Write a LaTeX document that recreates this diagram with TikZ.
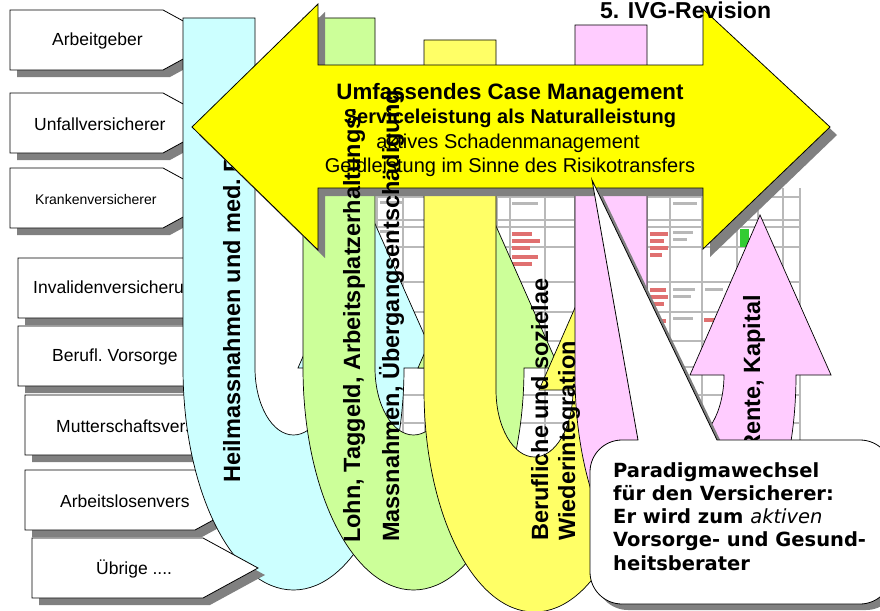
\documentclass[tikz,border=0pt]{standalone}
\usepackage{fontspec}
\setmainfont{Liberation Sans}
\newfontfamily\calloutfont{DejaVu Sans}
\usetikzlibrary{shadows}

\definecolor{ucyan}{HTML}{CCFFFF}
\definecolor{ugreen}{HTML}{CCFF99}
\definecolor{uyellow}{HTML}{FFFF66}
\definecolor{upink}{HTML}{FFCCFF}
\definecolor{bannery}{HTML}{FFFF00}
\definecolor{shade}{HTML}{808080}
\definecolor{tablered}{HTML}{E07070}
\definecolor{tablegrey}{HTML}{B8B8B8}
\definecolor{tablegreen}{HTML}{33CC33}

\tikzset{
    entity/.style={draw=black, fill=white, line width=0.8pt,
        drop shadow={shadow xshift=7pt, shadow yshift=-7pt, fill=shade, opacity=1}}, % the insurer boxes
    entitytext/.style={anchor=west, inner sep=0pt, font=\fontsize{17.5}{20}\selectfont},
    uturn/.style={draw=black, line width=0.7pt},
    flowtext/.style={rotate=90, anchor=base west, inner sep=0pt, font=\bfseries\fontsize{23.5}{26}\selectfont},
    banner/.style={draw=black, fill=bannery, line width=0.8pt,
        drop shadow={shadow xshift=7pt, shadow yshift=-8pt, fill=shade, opacity=1}},
    bannertext/.style={anchor=base, inner sep=0pt},
    callout/.style={draw=black, fill=white, line width=0.8pt,
        drop shadow={shadow xshift=6pt, shadow yshift=-6pt, fill=shade, opacity=1}},
    tablegrid/.style={draw=gray!55, line width=1.3pt},
}

% U-turn arrow: left x, top y, colour
\newcommand{\uarrow}[3]{%
    \filldraw[uturn, fill=#3, shift={(#1,#2)}] (0,0) -- (72,0) -- (72,350)
        arc[start angle=180, end angle=0, x radius=38.5, y radius=67]
        -- (115,350) -- (185,190) -- (256,350) -- (221,350)
        arc[start angle=0, end angle=180, x radius=110.5, y radius=222] -- cycle;
}

\begin{document}
\begin{tikzpicture}[x=1pt, y=-1pt]
    \useasboundingbox (0,0) rectangle (880,610);

    % insurers
    \foreach \bx/\by/\bw/\tx/\txt/\nm in {10/10/153/52/Arbeitgeber/ag,
            10/93/153/34/Unfallversicherer/uv,
            10/168/153/35/{\fontsize{14}{16}\selectfont Krankenversicherer}/kv,
            18/258/170/33/Invalidenversicherung/iv,
            18/326/170/52/Berufl.\ Vorsorge/bv,
            25/395/170/56/Mutterschaftsvers/mv,
            25/470/170/60/Arbeitslosenvers/al}{
        \filldraw[entity] (\bx,\by) -- ++(\bw,0) -- ++(55,30) -- ++(-55,30) -- ++(-\bw,0) -- cycle;
        \node[entitytext] (\nm) at (\tx,\by+31) {\txt};
    }

    % table in the background
    \fill[white] (377,188) rectangle (800,440);
    \foreach \c in {377,403,425,470,497,510,545,575,647,670,702,737,758,783,800}
        \draw[tablegrid] (\c,188) -- (\c,440);
    \foreach \r in {197,220,227,247,282,312,341,367,395,423}
        \draw[tablegrid] (377,\r) -- (800,\r);
    \foreach \bx/\by/\bl in {650/232/18, 650/239/14, 650/246/18, 650/253/12,
            650/288/16, 650/295/18, 650/302/14, 650/319/16, 650/326/12,
            512/232/20, 512/239/28, 512/246/18, 512/255/26, 512/262/20,
            704/318/24, 705/347/20, 649/345/14}
        \fill[tablered] (\bx,\by) rectangle ++(\bl,3.5);
    \foreach \bx/\by/\bl in {673/202/24, 705/202/26, 705/209/22, 740/202/12,
            673/231/20, 673/238/14, 673/288/22, 673/295/18, 673/317/20,
            705/288/18, 705/424/20, 380/201/22, 380/230/14, 512/202/26}
        \fill[tablegrey] (\bx,\by) rectangle ++(\bl,3);
    \fill[tablegreen] (740,229) rectangle (749,247);

    % benefit flows
    \uarrow{183}{18}{ucyan}
    \uarrow{303}{18}{ugreen}
    \uarrow{424}{40}{uyellow}
    \uarrow{575}{25}{upink}

    \filldraw[entity] (32,538) -- ++(171,0) -- ++(55,30) -- ++(-55,30) -- ++(-171,0) -- cycle;
    \node[entitytext] (ub) at (96,569) {Übrige ....};

    \node[flowtext] (heil) at (240,483) {Heilmassnahmen und med.\ R};

    % case management banner
    \filldraw[banner] (192,127) -- (318,4) -- (318,65) -- (703,65) -- (703,9) -- (830,127)
        -- (703,249) -- (703,188) -- (318,188) -- (318,250) -- cycle;
    \node[bannertext, font=\bfseries\fontsize{22.3}{26}\selectfont] (case) at (510,99) {Umfassendes Case Management};
    \node[bannertext, font=\bfseries\fontsize{20}{24}\selectfont] (service) at (510,123) {Serviceleistung als Naturalleistung};
    \node[bannertext, font=\fontsize{20}{24}\selectfont] (schaden) at (508,148) {aktives Schadenmanagement};
    \node[bannertext, font=\fontsize{20}{24}\selectfont] (geld) at (510,172) {Geldleistung im Sinne des Risikotransfers};

    \node[flowtext] (lohn) at (360,543) {Lohn, Taggeld, Arbeitsplatzerhaltungs-};
    \node[flowtext] (massn) at (399,542) {Massnahmen, Übergangsentschädigung};
    \node[flowtext] (beruf) at (548,541) {Berufliche und sozielae};
    \node[flowtext] (wieder) at (575,541) {Wiederintegration};
    \node[flowtext] (rente) at (760,452) {Rente, Kapital};

    % callout
    \filldraw[callout] (590,472) arc[start angle=180, end angle=270, radius=32]
        -- (638,440) -- (592,180) -- (717,440) -- (860,440)
        arc[start angle=270, end angle=360, radius=32] -- (892,572)
        arc[start angle=0, end angle=90, radius=32] -- (622,604)
        arc[start angle=90, end angle=180, radius=32] -- cycle;
    \node[anchor=north west, inner sep=0pt, align=left,
        font=\calloutfont\bfseries\fontsize{19.5}{23.3}\selectfont] (paradigm) at (613,462)
        {Paradigmawechsel\\für den Versicherer:\\Er wird zum {\mdseries\itshape aktiven}\\Vorsorge- und Gesund-\\heitsberater};

    \node[anchor=base west, inner sep=0pt, font=\bfseries\fontsize{23}{27}\selectfont] (revision) at (600,19) {5. IVG-Revision};
\end{tikzpicture}
\end{document}
